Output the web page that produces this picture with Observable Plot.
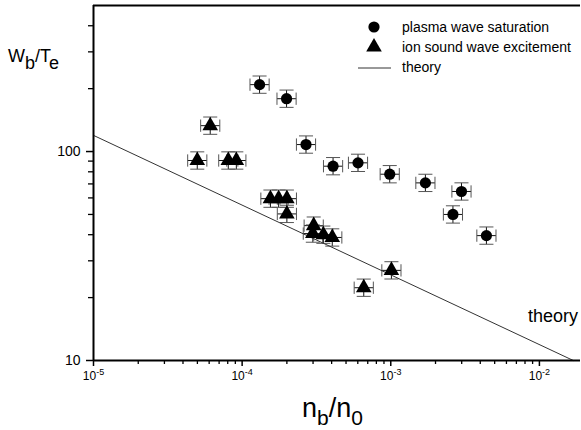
<!DOCTYPE html>
<html><head><meta charset="utf-8">
<script src="https://cdn.jsdelivr.net/npm/d3@7"></script>
<script src="https://cdn.jsdelivr.net/npm/@observablehq/plot@0.6"></script>
<style>
body{margin:0;background:#fff;}
#chart svg{font-family:"Liberation Sans",Arial,sans-serif;}
</style>
</head><body><div id="chart"></div>
<script>
// ---- data ----
const plasmaX = [1.31e-4, 1.99e-4, 2.69e-4, 4.09e-4, 6.02e-4, 9.84e-4, 1.71e-3, 2.99e-3, 2.62e-3, 4.4e-3];
const plasmaY = [209, 179, 108, 85.1, 88.3, 77.9, 70.8, 64.4, 50, 39.6];
const ionX = [6.1e-5, 4.99e-5, 8.07e-5, 9.14e-5, 1.55e-4, 1.76e-4, 2.0e-4, 2.0e-4, 3.03e-4, 2.99e-4, 3.52e-4, 4.04e-4, 1.01e-3, 6.58e-4];
const ionY = [133, 90.6, 90.6, 90.6, 59.5, 59.5, 59.5, 50.3, 44.2, 40.5, 40, 38.8, 27, 22.3];
const theoryX = [1e-5, 0.0169];
const theoryY = [119.5, 10];
const xErr = 1.16;   // relative error (factor) in n_b/n_0
const yErr = 1.10;   // relative error (factor) in W_b/T_e
const capX = 1.115, capY = 1.07;
const xMajorTicks = [1e-5, 1e-4, 1e-3, 1e-2];
const xTickExponents = ["-5", "-4", "-3", "-2"];
const yMajorTicks = [10, 100];
const yTickLabels = ["10", "100"];
const xDomain = [1e-5, 0.0189];
const yDomain = [10, 500];
const legendLabels = ["plasma wave saturation", "ion sound wave excitement", "theory"];

// ---- derived tables ----
const plasma = plasmaX.map((x, i) => ({x, y: plasmaY[i]}));
const ion = ionX.map((x, i) => ({x, y: ionY[i]}));
const allPts = plasma.concat(ion);
const theory = theoryX.map((x, i) => ({x, y: theoryY[i]}));
const xMinor = [];
for (const d of [1e-5, 1e-4, 1e-3, 1e-2]) for (let k = 2; k <= 9; k++) { const v = d * k; if (v <= xDomain[1]) xMinor.push(v); }
const yMinor = [];
for (const d of [10, 100]) for (let k = 2; k <= 9; k++) { const v = d * k; if (v < yDomain[1]) yMinor.push(v); }

const chart = Plot.plot({
  width: 581, height: 430,
  marginLeft: 93, marginRight: 1, marginTop: 5, marginBottom: 70,
  style: {fontFamily: "'Liberation Sans', Arial, sans-serif", background: "#fff", color: "#000"},
  x: {type: "log", domain: xDomain, label: null},
  y: {type: "log", domain: yDomain, label: null},
  marks: [
    // error bars
    Plot.link(allPts, {x1: d => d.x / xErr, x2: d => d.x * xErr, y1: "y", y2: "y", stroke: "#111", strokeWidth: 1}),
    Plot.link(allPts, {x1: "x", x2: "x", y1: d => d.y / yErr, y2: d => d.y * yErr, stroke: "#111", strokeWidth: 1}),
    Plot.link(allPts, {x1: d => d.x / xErr, x2: d => d.x / xErr, y1: d => d.y / capY, y2: d => d.y * capY, stroke: "#555", strokeWidth: 1}),
    Plot.link(allPts, {x1: d => d.x * xErr, x2: d => d.x * xErr, y1: d => d.y / capY, y2: d => d.y * capY, stroke: "#555", strokeWidth: 1}),
    Plot.link(allPts, {x1: d => d.x / capX, x2: d => d.x * capX, y1: d => d.y / yErr, y2: d => d.y / yErr, stroke: "#555", strokeWidth: 1}),
    Plot.link(allPts, {x1: d => d.x / capX, x2: d => d.x * capX, y1: d => d.y * yErr, y2: d => d.y * yErr, stroke: "#555", strokeWidth: 1}),
    // theory
    Plot.line(theory, {x: "x", y: "y", stroke: "#333", strokeWidth: 1}),
    // markers
    Plot.dot(plasma, {x: "x", y: "y", r: 5.6, fill: "#000", symbol: "circle"}),
    Plot.dot(ion, {x: "x", y: "y", r: 5.8, fill: "#000", symbol: "triangle"}),
    // axes
    Plot.axisX(xMinor, {tickSize: 4, tickFormat: () => "", strokeWidth: 1.3, label: null}),
    Plot.axisX(xMajorTicks, {tickSize: 6, tickPadding: 5, fontSize: 12, strokeWidth: 1.5, label: null,
      tickFormat: d => xTickExponents[xMajorTicks.indexOf(d)]}),
    Plot.axisY(yMinor, {tickSize: 5, tickFormat: () => "", strokeWidth: 1.3, label: null}),
    Plot.axisY(yMajorTicks, {tickSize: 7, tickPadding: 6, fontSize: 14, strokeWidth: 1.5, label: null,
      tickFormat: d => yTickLabels[yMajorTicks.indexOf(d)]}),
    Plot.ruleY([yDomain[1]], {stroke: "#000", strokeWidth: 2}),
    Plot.ruleY([yDomain[0]], {stroke: "#000", strokeWidth: 2}),
    Plot.ruleX([xDomain[0]], {stroke: "#000", strokeWidth: 2})
  ]
});
document.getElementById("chart").appendChild(chart);

const svg = d3.select(chart);
// x tick labels as 10 with superscript exponent
svg.selectAll('g[aria-label="x-axis tick label"] text').each(function () {
  const t = d3.select(this);
  const exp = t.text();
  if (!exp) return;
  t.text("");
  t.style("font-size", "12px").attr("fill", "#000");
  t.append("tspan").text("10");
  t.append("tspan").attr("dy", "-5").style("font-size", "9px").text(exp);
});
svg.selectAll('g[aria-label="y-axis tick label"] text').style("font-size", "14px").attr("fill", "#000");

// legend
const lg = svg.append("g").attr("font-size", 14).attr("fill", "#000").attr("text-anchor", "start");
lg.append("circle").attr("cx", 374).attr("cy", 27).attr("r", 5.6).attr("fill", "#000");
lg.append("path").attr("d", d3.symbol(d3.symbolTriangle, 5.8 * 5.8 * Math.PI)()).attr("transform", "translate(374,47)").attr("fill", "#000");
lg.append("line").attr("x1", 358).attr("x2", 391).attr("y1", 68).attr("y2", 68).attr("stroke", "#333");
legendLabels.forEach((s, i) => {
  lg.append("text").attr("x", 402).attr("y", 32 + i * 20).text(s);
});

// theory annotation
svg.append("text").attr("x", 528).attr("y", 322).attr("font-size", 18).attr("text-anchor", "start").text("theory");

// y label W_b/T_e
const yl = svg.append("text").attr("x", 8).attr("y", 62).attr("font-size", 18).attr("text-anchor", "start");
yl.append("tspan").text("W");
yl.append("tspan").attr("dy", 7).text("b");
yl.append("tspan").attr("dy", -7).text("/T");
yl.append("tspan").attr("dy", 7).text("e");

// x label n_b/n_0
const xl = svg.append("text").attr("x", 302).attr("y", 417).attr("font-size", 27).attr("text-anchor", "start");
xl.append("tspan").text("n");
xl.append("tspan").attr("dy", 8).attr("font-size", 21).text("b");
xl.append("tspan").attr("dy", -8).text("/n");
xl.append("tspan").attr("dy", 8).attr("font-size", 21).text("0");
</script>
</body></html>
